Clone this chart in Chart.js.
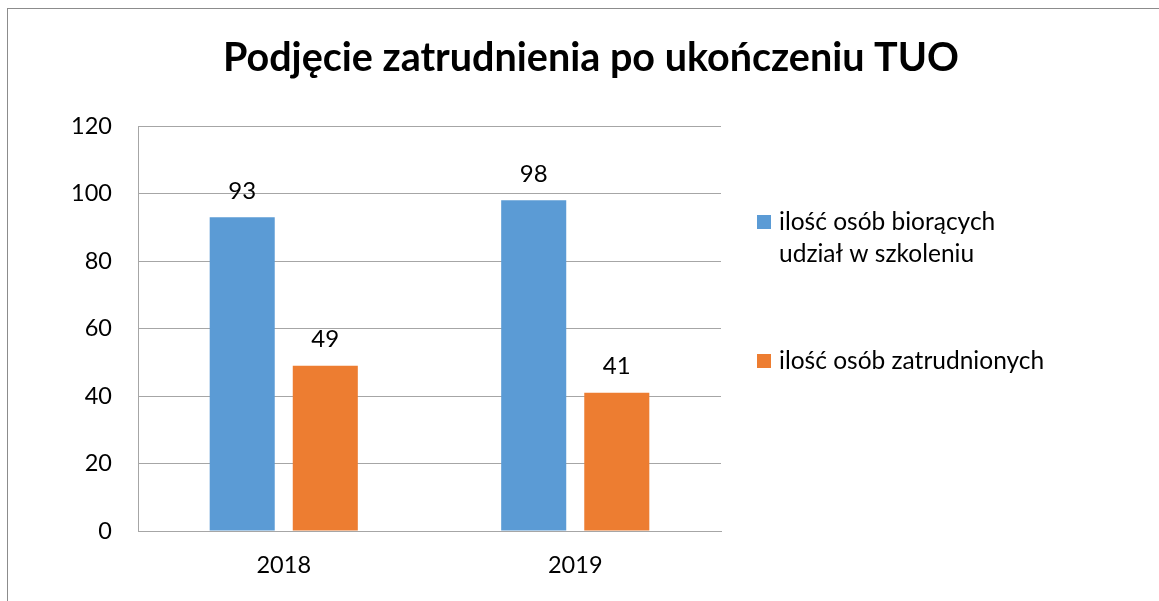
<!DOCTYPE html>
<html>
<head>
<meta charset="utf-8">
<script src="https://cdn.jsdelivr.net/npm/chart.js"></script>
<style>
	html, body { margin: 0; padding: 0; background: #fff; }
	#wrap { width: 1159px; height: 601px; position: relative; }
</style>
</head>
<body>
<div id="wrap"><canvas id="myChart" width="1159" height="601"></canvas></div>
<script>
// chart data
const chartTitle = "Podjęcie zatrudnienia po ukończeniu TUO";
const years = ["2018", "2019"];
const participants = [93, 98];
const employed = [49, 41];
const seriesNames = [["ilość osób biorących", "udział w szkoleniu"], ["ilość osób zatrudnionych"]];
const yTicks = [0, 20, 40, 60, 80, 100, 120];

const FONT = "Lato, 'Open Sans', sans-serif";
const GRID = '#a6a6a6';

// frame + title + legend drawn by hand
const decorPlugin = {
	id: 'decor',
	beforeDraw: function (chart) {
		const ctx = chart.ctx;
		ctx.save();
		ctx.fillStyle = '#fff';
		ctx.fillRect(0, 0, chart.width, chart.height);
		ctx.strokeStyle = '#8c8c8c';
		ctx.lineWidth = 1;
		ctx.strokeRect(7.5, 8.5, chart.width, chart.height);
		ctx.restore();
	},
	afterDraw: function (chart) {
		const ctx = chart.ctx;
		ctx.save();
		ctx.fillStyle = '#000';
		ctx.font = "bold 39.5px " + FONT;
		ctx.textAlign = 'center';
		ctx.textBaseline = 'middle';
		ctx.fillText(chartTitle, 591, 58);

		// legend
		ctx.font = "24.5px " + FONT;
		ctx.textAlign = 'left';
		const legendY = [222, 361];
		chart.data.datasets.forEach((ds, i) => {
			ctx.fillStyle = ds.backgroundColor;
			ctx.fillRect(757, legendY[i] - 7, 14, 14);
			ctx.fillStyle = '#000';
			ds.label.forEach((line, j) => {
				ctx.fillText(line, 779, legendY[i] + j * 32);
			});
		});
		ctx.restore();
	},
	afterDatasetsDraw: function (chart) {
		const ctx = chart.ctx;
		ctx.save();
		ctx.fillStyle = '#000';
		ctx.font = "24px " + FONT;
		ctx.textAlign = 'center';
		ctx.textBaseline = 'middle';
		chart.data.datasets.forEach((ds, i) => {
			chart.getDatasetMeta(i).data.forEach((bar, j) => {
				ctx.fillText(ds.data[j], bar.x, bar.y - 26);
			});
		});
		ctx.restore();
	}
};

new Chart(document.getElementById('myChart'), {
	type: 'bar',
	data: {
		labels: years,
		datasets: [
			{ label: seriesNames[0], data: participants, backgroundColor: '#5b9bd5' },
			{ label: seriesNames[1], data: employed, backgroundColor: '#ed7d31' }
		]
	},
	options: {
		responsive: false,
		animation: false,
		devicePixelRatio: 1,
		categoryPercentage: 0.57,
		barPercentage: 0.783,
		layout: { padding: { left: 8, right: 438, top: 126, bottom: 0 } },
		plugins: {
			legend: { display: false },
			title: { display: false },
			tooltip: { enabled: false }
		},
		scales: {
			x: {
				grid: { display: false, drawTicks: false },
				border: { color: GRID, width: 1 },
				ticks: { color: '#000', font: { family: FONT, size: 23.5 }, padding: 20 },
				afterFit: function (scale) { scale.height = 70; }
			},
			y: {
				min: 0,
				max: 120,
				afterBuildTicks: function (scale) { scale.ticks = yTicks.map(v => ({ value: v })); },
				grid: { color: GRID, drawTicks: false },
				border: { color: GRID, width: 1 },
				ticks: { color: '#000', font: { family: FONT, size: 23.5 }, padding: 26 },
				afterFit: function (scale) { scale.width = 130; }
			}
		}
	},
	plugins: [decorPlugin]
});
</script>
</body>
</html>
